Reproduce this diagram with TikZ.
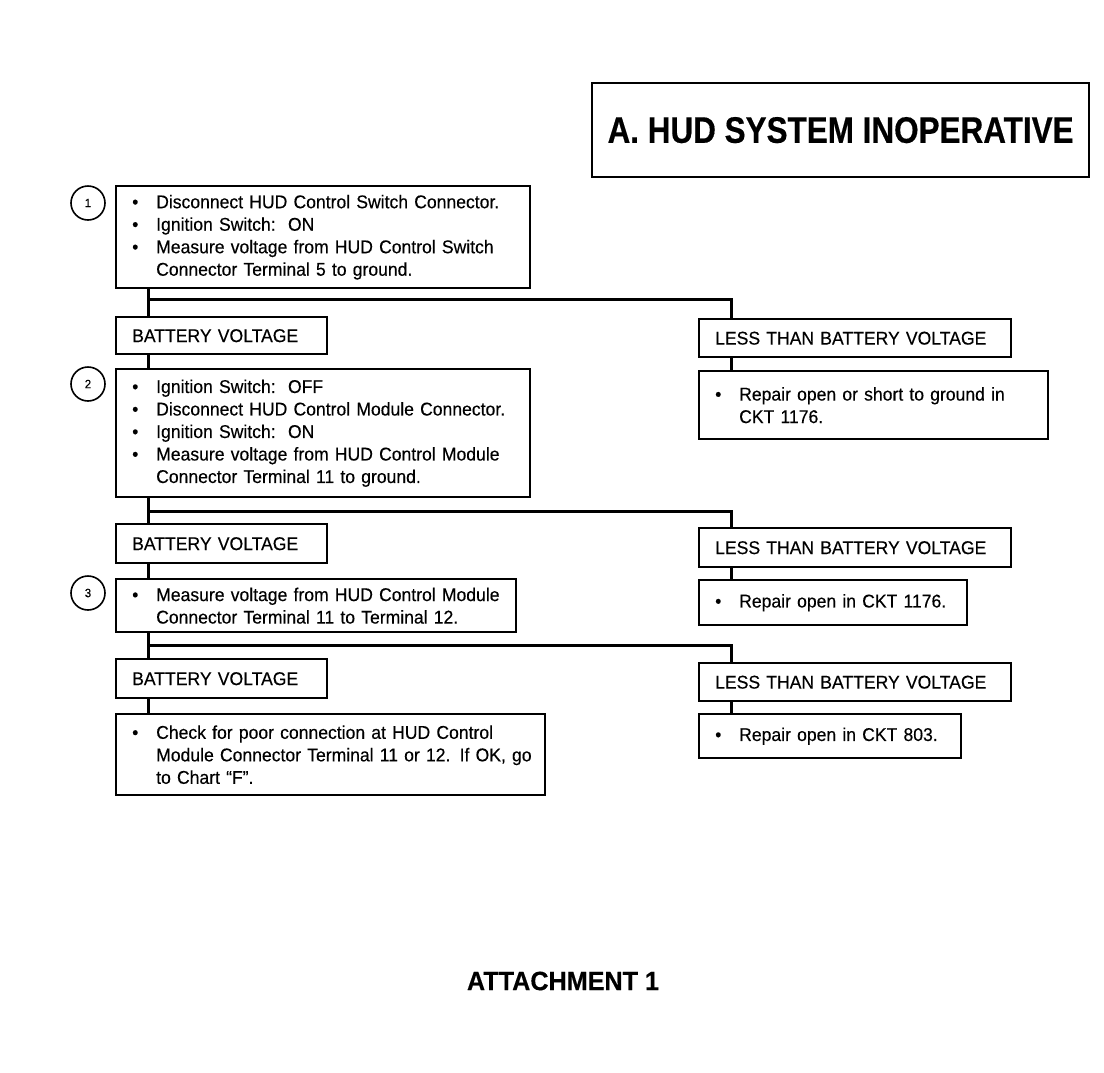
\documentclass[tikz,border=0pt]{standalone}
\usepackage{fontspec}
\setmainfont{Liberation Sans}
\newfontfamily\bodyfont[FakeStretch=0.95,FakeBold=0.3]{Liberation Sans}
\newfontfamily\titlefont[FakeStretch=0.85,FakeBold=0.4]{Liberation Sans}
\newfontfamily\attfont[FakeStretch=0.95,FakeBold=0.3]{Liberation Sans}
\newcommand\bul[1]{\mbox{\makebox[24pt][l]{\textbullet}#1}}
\newcommand\cnt[1]{\mbox{\hspace*{24pt}#1}}
\newcommand\bodysize{\bodyfont\fontsize{18.5}{22.5}\selectfont\spaceskip=4.2pt plus 1pt minus 1pt\relax}
\begin{document}
\begin{tikzpicture}[x=1pt,y=-1pt,
  box/.style={draw, line width=2.4pt, anchor=north west, inner xsep=16pt, inner ysep=0pt,
    align=left, font=\bodysize},
  conn/.style={line width=3pt, line cap=rect},
  num/.style={circle, draw, line width=1.6pt, minimum size=34pt, inner sep=0pt,
    font=\bodyfont\fontsize{12}{12}\selectfont}]
\useasboundingbox (0,0) rectangle (1104,1072);
\fill[white] (0,0) rectangle (1104,1072);

\node[draw, line width=2.2pt, anchor=north west, minimum width=497pt, minimum height=94pt,
  inner sep=0pt, font=\titlefont\bfseries\fontsize{37}{37}\selectfont] (title) at (591,82)
  {A. HUD SYSTEM INOPERATIVE};

% left column
\node[box, text width=382pt, minimum height=102pt] (b1) at (115,185)
  {\bul{Disconnect HUD Control Switch Connector.}\\
   \bul{Ignition Switch:\ \ ON}\\
   \bul{Measure voltage from HUD Control Switch}\\
   \cnt{Connector Terminal 5 to ground.}};
\node[box, text width=179pt, minimum height=37pt] (bv1) at (115,316) {BATTERY VOLTAGE};
\node[box, text width=382pt, minimum height=128pt] (b2) at (115,368)
  {\bul{Ignition Switch:\ \ OFF}\\
   \bul{Disconnect HUD Control Module Connector.}\\
   \bul{Ignition Switch:\ \ ON}\\
   \bul{Measure voltage from HUD Control Module}\\
   \cnt{Connector Terminal 11 to ground.}};
\node[box, text width=179pt, minimum height=39pt] (bv2) at (115,523) {BATTERY VOLTAGE};
\node[box, text width=368pt, minimum height=53pt] (b3) at (115,578)
  {\bul{Measure voltage from HUD Control Module}\\
   \cnt{Connector Terminal 11 to Terminal 12.}};
\node[box, text width=179pt, minimum height=39pt] (bv3) at (115,658) {BATTERY VOLTAGE};
\node[box, text width=397pt, minimum height=81pt] (b4) at (115,713)
  {\bul{Check for poor connection at HUD Control}\\
   \cnt{Module Connector Terminal 11 or 12. If OK, go}\\
   \cnt{to Chart “F”.}};

% right column
\node[box, text width=280pt, minimum height=38pt] (lt1) at (698,318) {LESS THAN BATTERY VOLTAGE};
\node[box, text width=317pt, minimum height=68pt] (r1) at (698,370)
  {\bul{Repair open or short to ground in}\\
   \cnt{CKT 1176.}};
\node[box, text width=280pt, minimum height=39pt] (lt2) at (698,527) {LESS THAN BATTERY VOLTAGE};
\node[box, text width=236pt, minimum height=45pt] (r2) at (698,579)
  {\bul{Repair open in CKT 1176.}};
\node[box, text width=280pt, minimum height=38pt] (lt3) at (698,662) {LESS THAN BATTERY VOLTAGE};
\node[box, text width=230pt, minimum height=44pt] (r3) at (698,713)
  {\bul{Repair open in CKT 803.}};

% step numbers
\node[num] (n1) at (88,203) {1};
\node[num] (n2) at (88,384) {2};
\node[num] (n3) at (88,593) {3};

% connectors
\coordinate (j1) at (148,299); \coordinate (k1) at (731,301);
\coordinate (j2) at (148,511); \coordinate (k2) at (731,512);
\coordinate (j3) at (148,645); \coordinate (k3) at (731,646);

\draw[conn] (b1.south -| j1) -- (bv1.north -| j1);
\draw[conn] (j1) -- (j1 -| k1) -- (lt1.north -| k1);
\draw[conn] (bv1.south -| j1) -- (b2.north -| j1);
\draw[conn] (lt1.south -| k1) -- (r1.north -| k1);

\draw[conn] (b2.south -| j2) -- (bv2.north -| j2);
\draw[conn] (j2) -- (j2 -| k2) -- (lt2.north -| k2);
\draw[conn] (bv2.south -| j2) -- (b3.north -| j2);
\draw[conn] (lt2.south -| k2) -- (r2.north -| k2);

\draw[conn] (b3.south -| j3) -- (bv3.north -| j3);
\draw[conn] (j3) -- (j3 -| k3) -- (lt3.north -| k3);
\draw[conn] (bv3.south -| j3) -- (b4.north -| j3);
\draw[conn] (lt3.south -| k3) -- (r3.north -| k3);

\node[font=\attfont\bfseries\fontsize{26.5}{26.5}\selectfont] (att) at (563,981) {ATTACHMENT 1};
\end{tikzpicture}
\end{document}
